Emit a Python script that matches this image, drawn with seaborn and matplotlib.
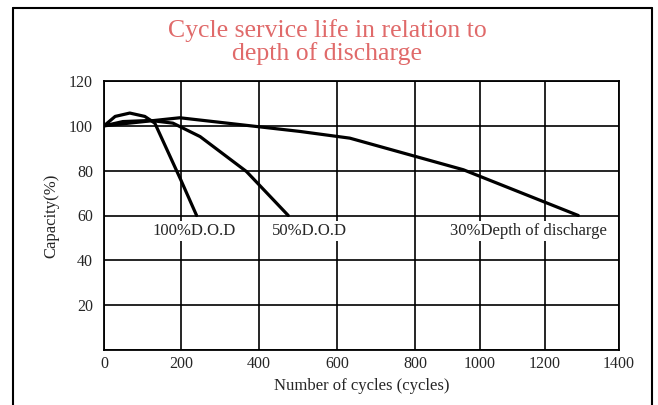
import numpy as np
import pandas as pd
import matplotlib
matplotlib.use("Agg")
import matplotlib.pyplot as plt
from matplotlib.lines import Line2D
import seaborn as sns

# data
cycles_100 = [0, 29, 67, 106, 132, 200, 240]
cap_100 = [100, 104.2, 105.7, 104.2, 101.2, 75.7, 60]
cycles_50 = [0, 49, 120, 179, 249, 368, 475]
cap_50 = [100, 101.9, 102.4, 101.2, 95.2, 79.6, 60]
cycles_30 = [0, 197, 505, 633, 949, 1290]
cap_30 = [100, 103.6, 97.5, 94.5, 80.4, 60]

x_ticks = [0, 200, 400, 600, 800, 1000, 1200, 1400]
y_ticks = [0, 20, 40, 60, 80, 100, 120]
# the printed grid is not evenly spaced, relative pixel spacing of the x grid
x_grid_px = [0, 77, 155, 233, 311, 376, 441, 515]

labels = ["100%D.O.D", "50%D.O.D", "30%Depth of discharge"]
label_x = [125, 433, 908]
label_y = 53.3

df = pd.concat([
    pd.DataFrame({"cycles": cycles_100, "capacity": cap_100, "dod": "100"}),
    pd.DataFrame({"cycles": cycles_50, "capacity": cap_50, "dod": "50"}),
    pd.DataFrame({"cycles": cycles_30, "capacity": cap_30, "dod": "30"}),
])

sns.set_style("white")
plt.rcParams["font.family"] = ["Liberation Serif", "DejaVu Serif"]

fig = plt.figure(figsize=(6.58, 4.05), dpi=100)
ax = fig.add_axes([104 / 658, 1 - 350 / 405, 515 / 658, 269 / 405])


def fwd(x):
    return np.interp(x, x_ticks, x_grid_px)


def inv(p):
    return np.interp(p, x_grid_px, x_ticks)


ax.set_xscale("function", functions=(fwd, inv))

for key in ["100", "50", "30"]:
    sns.lineplot(data=df[df["dod"] == key], x="cycles", y="capacity",
                 color="black", linewidth=2.3, ax=ax, sort=False,
                 estimator=None, legend=False)

ax.set_xlim(0, 1400)
ax.set_ylim(0, 120)
ax.set_xticks(x_ticks)
ax.set_xticklabels([str(t) for t in x_ticks])
ax.set_yticks(y_ticks)
ax.set_yticklabels(["" if t == 0 else str(t) for t in y_ticks])
ax.grid(True, color="black", linewidth=1.2)
for s in ax.spines.values():
    s.set_color("black")
    s.set_linewidth(1.3)
ax.tick_params(length=0, labelsize=11.5)
ax.tick_params(axis="y", pad=8)
ax.tick_params(axis="x", pad=4)

ax.set_xlabel("Number of cycles (cycles)", fontsize=12, labelpad=5)
ax.set_ylabel("Capacity(%)", fontsize=12, labelpad=7)

# curve labels sit on a white box that hides the grid behind them
for txt, lx in zip(labels, label_x):
    ax.text(lx, label_y, txt, fontsize=12, ha="left", va="center", zorder=5,
            bbox=dict(facecolor="white", edgecolor="none", pad=1.5))

fig.text(327 / 658, 1 - 42 / 405, "Cycle service life in relation to\ndepth of discharge",
         ha="center", va="center", fontsize=18.5, color="#e06a6a",
         linespacing=0.95)

# outer frame of the original picture
fig.add_artist(Line2D([13 / 658, 13 / 658], [0, 1 - 8 / 405], transform=fig.transFigure, color="black", lw=1.5))
fig.add_artist(Line2D([652 / 658, 652 / 658], [0, 1 - 8 / 405], transform=fig.transFigure, color="black", lw=1.5))
fig.add_artist(Line2D([13 / 658, 652 / 658], [1 - 8 / 405, 1 - 8 / 405], transform=fig.transFigure, color="black", lw=1.5))

fig.savefig("out.png", dpi=100)
